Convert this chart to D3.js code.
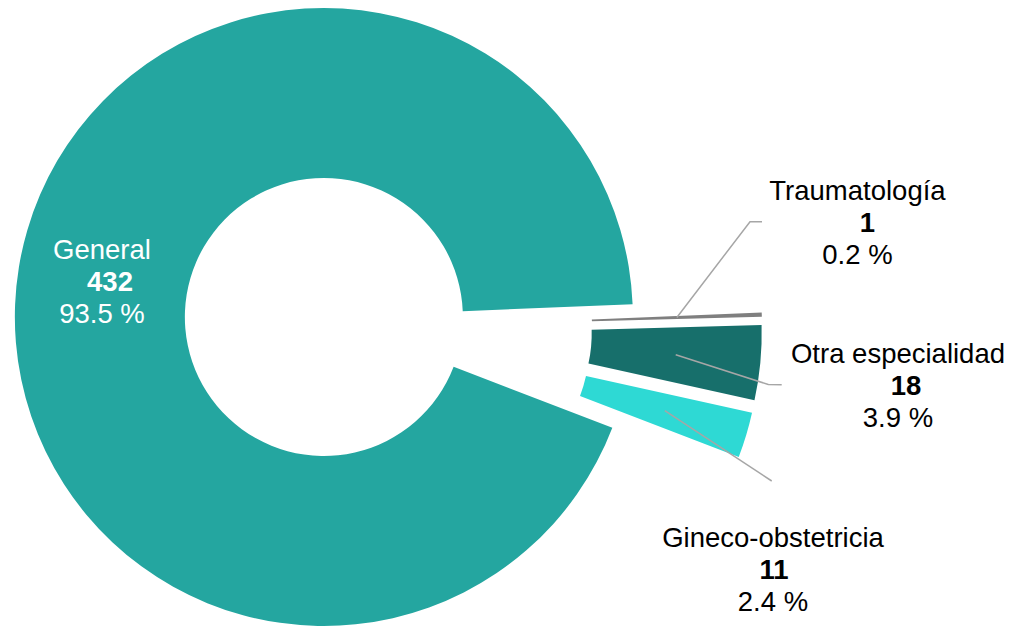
<!DOCTYPE html>
<html>
<head>
<meta charset="utf-8">
<script src="https://cdn.jsdelivr.net/npm/d3@7/dist/d3.min.js"></script>
<style>
  html, body { margin: 0; padding: 0; background: #ffffff; }
  svg { display: block; }
  text { font-family: "Liberation Sans", Arial, sans-serif; }
</style>
</head>
<body>
<svg id="chart" width="1015" height="627"></svg>
<script>
// Consultations by specialty
const categories = ["General", "Traumatología", "Otra especialidad", "Gineco-obstetricia"];
const counts = [432, 1, 18, 11];
const colors = ["#24A6A0", "#7F7F7F", "#176F6B", "#2ED9D4"];

// Layout
const W = 1015, H = 627;
const center = { x: 388, y: 327.5 };
const outerR = 309, innerR = 139;
const explode = 65;
const startDeg = 111;
const fontSize = 27.5, lineGap = 32;

// Label anchors (text centre x, first baseline y), count-line nudge, colour and leader path
const labelLayout = [
  { x: 102,   y: 258.5, countDx: 8,  fill: "#ffffff", leader: null },
  { x: 857.5, y: 200,   countDx: 10, fill: "#000000", leader: [[750, 221.7], [762, 221.7]] },
  { x: 898,   y: 362.5, countDx: 8,  fill: "#000000", leader: [[768.3, 384.5], [781.7, 384.8]] },
  { x: 773,   y: 547,   countDx: 1,  fill: "#000000", leader: [[771.7, 481]] }
];

const total = d3.sum(counts);
const data = categories.map((c, i) => ({ name: c, value: counts[i], color: colors[i], layout: labelLayout[i] }));

const start = startDeg * Math.PI / 180;
const pie = d3.pie().sort(null).value(d => d.value)
  .startAngle(start).endAngle(start + 2 * Math.PI);
const arc = d3.arc().innerRadius(innerR).outerRadius(outerR);

const svg = d3.select("#chart");
const g = svg.append("g").attr("transform", `translate(${center.x},${center.y})`);

const arcs = pie(data).map(a => {
  const mid = (a.startAngle + a.endAngle) / 2;
  a.dx = Math.sin(mid) * explode;
  a.dy = -Math.cos(mid) * explode;
  return a;
});

// Slices, each pushed out along its mid angle
g.selectAll("path.slice")
  .data(arcs)
  .join("path")
  .attr("class", "slice")
  .attr("transform", d => `translate(${d.dx},${d.dy})`)
  .attr("d", arc)
  .attr("fill", d => d.data.color);

// Leader lines from slice centroids
const line = d3.line();
arcs.forEach(a => {
  const L = a.data.layout;
  if (!L.leader) return;
  const c = arc.centroid(a);
  const p0 = [center.x + a.dx + c[0], center.y + a.dy + c[1]];
  svg.append("path")
    .attr("d", line([p0, ...L.leader]))
    .attr("fill", "none")
    .attr("stroke", "#A6A6A6")
    .attr("stroke-width", 1.5);
});

// Labels: name, count (bold), percentage
arcs.forEach(a => {
  const L = a.data.layout;
  const pct = (a.data.value / total * 100).toFixed(1) + " %";
  const t = svg.append("text")
    .attr("text-anchor", "middle")
    .attr("font-size", fontSize)
    .attr("fill", L.fill);
  t.append("tspan").attr("x", L.x).attr("y", L.y).text(a.data.name);
  t.append("tspan").attr("x", L.x + L.countDx).attr("y", L.y + lineGap)
    .attr("font-weight", "bold").text(a.data.value);
  t.append("tspan").attr("x", L.x).attr("y", L.y + 2 * lineGap).text(pct);
});
</script>
</body>
</html>
